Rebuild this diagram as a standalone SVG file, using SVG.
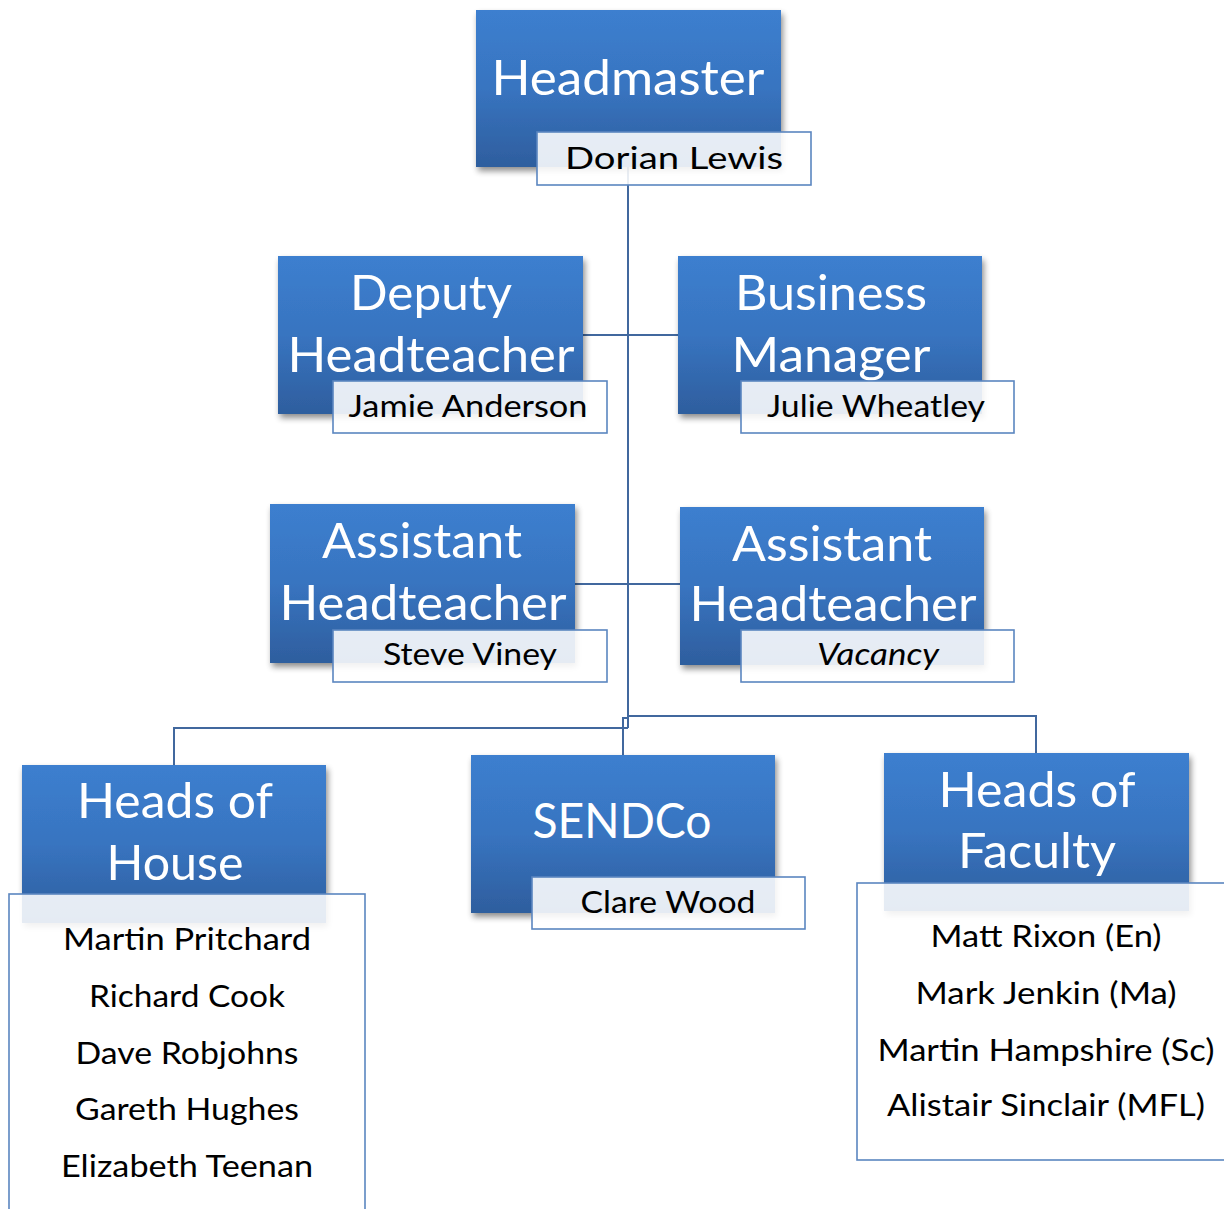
<svg xmlns="http://www.w3.org/2000/svg" width="1224" height="1209" viewBox="0 0 1224 1209">
<defs>
<linearGradient id="blue" x1="0" y1="0" x2="0" y2="1">
<stop offset="0" stop-color="#3c7fcf"/>
<stop offset="0.5" stop-color="#3874c0"/>
<stop offset="1" stop-color="#2e5e9e"/>
</linearGradient>
<filter id="shadow" x="-10%" y="-10%" width="125%" height="130%">
<feGaussianBlur in="SourceAlpha" stdDeviation="3"/>
<feOffset dx="2" dy="4" result="b"/>
<feComponentTransfer><feFuncA type="linear" slope="0.45"/></feComponentTransfer>
<feMerge><feMergeNode/><feMergeNode in="SourceGraphic"/></feMerge>
</filter>
</defs>
<style>
.box{fill:url(#blue);filter:url(#shadow);}
.name{fill:#ffffff;fill-opacity:0.88;stroke:#5b86c0;stroke-width:1.6;}
.title{font-family:Lato,"Liberation Sans",sans-serif;font-size:49px;fill:#ffffff;text-anchor:middle;}
.person{font-family:Lato,"Liberation Sans",sans-serif;font-size:31px;fill:#000000;text-anchor:middle;}
.conn{fill:none;stroke:#41689e;stroke-width:2;}
</style>
<rect width="1224" height="1209" fill="#ffffff"/>
<g id="connectors" class="conn">
<path d="M628,167 V728 M583,335 H678 M575,584 H680 M174,765 V728 H628 M628,716 H1036 V753 M623,755 V718 H628"/>
</g>
<g id="headmaster">
<rect class="box" x="476" y="10" width="305" height="157"/>
<text class="title" x="628" y="95" textLength="273" lengthAdjust="spacingAndGlyphs">Headmaster</text>
<rect class="name" x="537" y="132" width="274" height="53"/>
<text class="person" x="674" y="169" textLength="218" lengthAdjust="spacingAndGlyphs">Dorian Lewis</text>
</g>
<g id="deputy">
<rect class="box" x="278" y="256" width="305" height="158"/>
<text class="title" x="431" y="310" textLength="162" lengthAdjust="spacingAndGlyphs">Deputy</text>
<text class="title" x="431" y="372" textLength="287" lengthAdjust="spacingAndGlyphs">Headteacher</text>
<rect class="name" x="333" y="381" width="274" height="52"/>
<text class="person" x="468" y="417" textLength="239" lengthAdjust="spacingAndGlyphs">Jamie Anderson</text>
</g>
<g id="business">
<rect class="box" x="678" y="256" width="304" height="158"/>
<text class="title" x="831" y="310" textLength="192" lengthAdjust="spacingAndGlyphs">Business</text>
<text class="title" x="831" y="372" textLength="199" lengthAdjust="spacingAndGlyphs">Manager</text>
<rect class="name" x="741" y="381" width="273" height="52"/>
<text class="person" x="876" y="417" textLength="218" lengthAdjust="spacingAndGlyphs">Julie Wheatley</text>
</g>
<g id="assistant1">
<rect class="box" x="270" y="504" width="305" height="159"/>
<text class="title" x="422" y="558" textLength="200" lengthAdjust="spacingAndGlyphs">Assistant</text>
<text class="title" x="423" y="620" textLength="287" lengthAdjust="spacingAndGlyphs">Headteacher</text>
<rect class="name" x="333" y="630" width="274" height="52"/>
<text class="person" x="470" y="665" textLength="174" lengthAdjust="spacingAndGlyphs">Steve Viney</text>
</g>
<g id="assistant2">
<rect class="box" x="680" y="507" width="304" height="158"/>
<text class="title" x="832" y="561" textLength="200" lengthAdjust="spacingAndGlyphs">Assistant</text>
<text class="title" x="833" y="621" textLength="287" lengthAdjust="spacingAndGlyphs">Headteacher</text>
<rect class="name" x="741" y="630" width="273" height="52"/>
<text class="person" x="878" y="665" font-style="italic" textLength="122" lengthAdjust="spacingAndGlyphs">Vacancy</text>
</g>
<g id="heads-of-house">
<rect class="box" x="22" y="765" width="304" height="158"/>
<text class="title" x="175" y="818" textLength="196" lengthAdjust="spacingAndGlyphs">Heads of</text>
<text class="title" x="175" y="880" textLength="137" lengthAdjust="spacingAndGlyphs">House</text>
<rect class="name" x="9" y="894" width="356" height="330"/>
<text class="person" x="187" y="950" textLength="248" lengthAdjust="spacingAndGlyphs">Martin Pritchard</text>
<text class="person" x="187" y="1007" textLength="196" lengthAdjust="spacingAndGlyphs">Richard Cook</text>
<text class="person" x="187" y="1064" textLength="223" lengthAdjust="spacingAndGlyphs">Dave Robjohns</text>
<text class="person" x="187" y="1120" textLength="224" lengthAdjust="spacingAndGlyphs">Gareth Hughes</text>
<text class="person" x="187" y="1177" textLength="252" lengthAdjust="spacingAndGlyphs">Elizabeth Teenan</text>
</g>
<g id="sendco">
<rect class="box" x="471" y="755" width="304" height="158"/>
<text class="title" x="622" y="838" textLength="179" lengthAdjust="spacingAndGlyphs">SENDCo</text>
<rect class="name" x="532" y="877" width="273" height="52"/>
<text class="person" x="668" y="913" textLength="175" lengthAdjust="spacingAndGlyphs">Clare Wood</text>
</g>
<g id="heads-of-faculty">
<rect class="box" x="884" y="753" width="305" height="158"/>
<text class="title" x="1037" y="807" textLength="197" lengthAdjust="spacingAndGlyphs">Heads of</text>
<text class="title" x="1037" y="868" textLength="158" lengthAdjust="spacingAndGlyphs">Faculty</text>
<rect class="name" x="857" y="883" width="380" height="277"/>
<text class="person" x="1046" y="947" textLength="231" lengthAdjust="spacingAndGlyphs">Matt Rixon (En)</text>
<text class="person" x="1046" y="1004" textLength="261" lengthAdjust="spacingAndGlyphs">Mark Jenkin (Ma)</text>
<text class="person" x="1046" y="1061" textLength="337" lengthAdjust="spacingAndGlyphs">Martin Hampshire (Sc)</text>
<text class="person" x="1046" y="1116" textLength="318" lengthAdjust="spacingAndGlyphs">Alistair Sinclair (MFL)</text>
</g>
</svg>
